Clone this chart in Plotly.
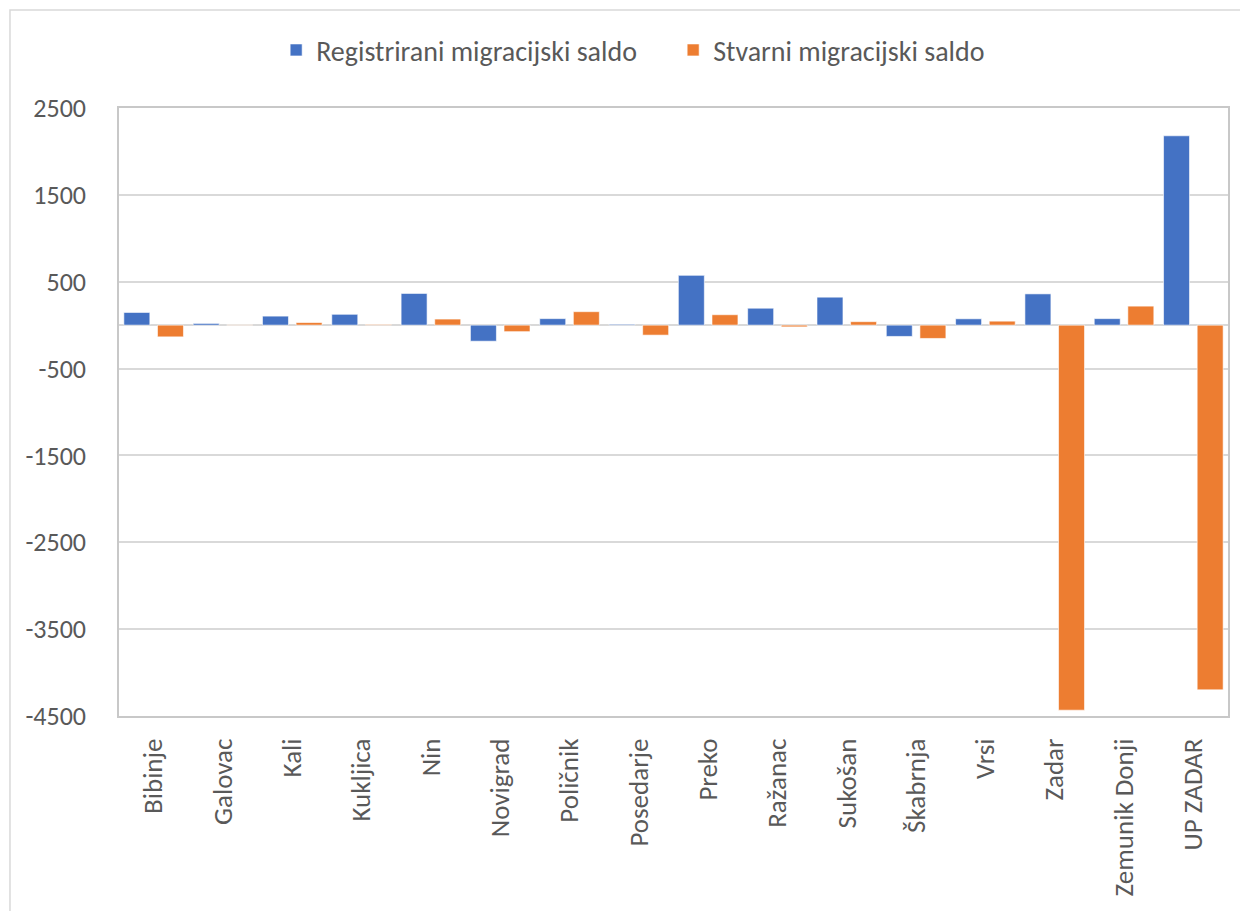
import plotly.graph_objects as go

categories = ["Bibinje", "Galovac", "Kali", "Kukljica", "Nin", "Novigrad", "Poličnik",
              "Posedarje", "Preko", "Ražanac", "Sukošan", "Škabrnja", "Vrsi", "Zadar",
              "Zemunik Donji", "UP ZADAR"]
registrirani = [146, 20, 104, 125, 365, -185, 75, 10, 573, 195, 322, -130, 73, 360, 75, 2180]
stvarni = [-135, 3, 30, 8, 70, -75, 155, -115, 120, -20, 40, -153, 46, -4433, 219, -4199]
y_ticks = [2500, 1500, 500, -500, -1500, -2500, -3500, -4500]

FONT = "Carlito, Lato, 'Open Sans', sans-serif"
TXT = "#595959"

fig = go.Figure()
fig.add_trace(go.Bar(x=categories, y=registrirani, name="Registrirani migracijski saldo",
                     marker=dict(color="#4472C4", line=dict(color="rgba(255,255,255,0.6)", width=1)),
                     width=0.375, offset=-0.43))
fig.add_trace(go.Bar(x=categories, y=stvarni, name="Stvarni migracijski saldo",
                     marker=dict(color="#ED7D31", line=dict(color="rgba(255,255,255,0.6)", width=1)),
                     width=0.375, offset=0.055))

fig.update_layout(
    width=1240, height=903,
    paper_bgcolor="white", plot_bgcolor="white",
    margin=dict(l=111, r=20, t=100, b=195),
    font=dict(family=FONT, size=26, color=TXT),
    barmode="overlay",
    showlegend=True,
    legend=dict(orientation="h", x=0.1417, xanchor="left", y=1.095, yanchor="middle",
                font=dict(size=28, color=TXT), itemwidth=30, traceorder="normal",
                entrywidth=352, entrywidthmode="pixels"),
    xaxis=dict(type="category", tickangle=-90, showline=True, mirror=True, linecolor="#c8c8c8",
               linewidth=1.5, ticks="", tickfont=dict(size=27, color=TXT), ticklabelstandoff=10,
               showgrid=False),
    yaxis=dict(range=[-4500, 2500], tickvals=y_ticks, ticktext=[str(v) for v in y_ticks],
               showgrid=True, gridcolor="#d9d9d9", gridwidth=1.5, zeroline=True,
               zerolinecolor="#d9d9d9", zerolinewidth=2, showline=True, mirror=True,
               linecolor="#c8c8c8", linewidth=1.5, ticks="", tickfont=dict(size=26, color=TXT),
               ticklabelstandoff=26),
    shapes=[dict(type="rect", xref="paper", yref="paper", x0=-0.0983, x1=1.0144, y0=-0.34, y1=1.161,
                 line=dict(color="#d9d9d9", width=1.5), fillcolor="rgba(0,0,0,0)", layer="below")],
)

fig.write_html("out.html")
